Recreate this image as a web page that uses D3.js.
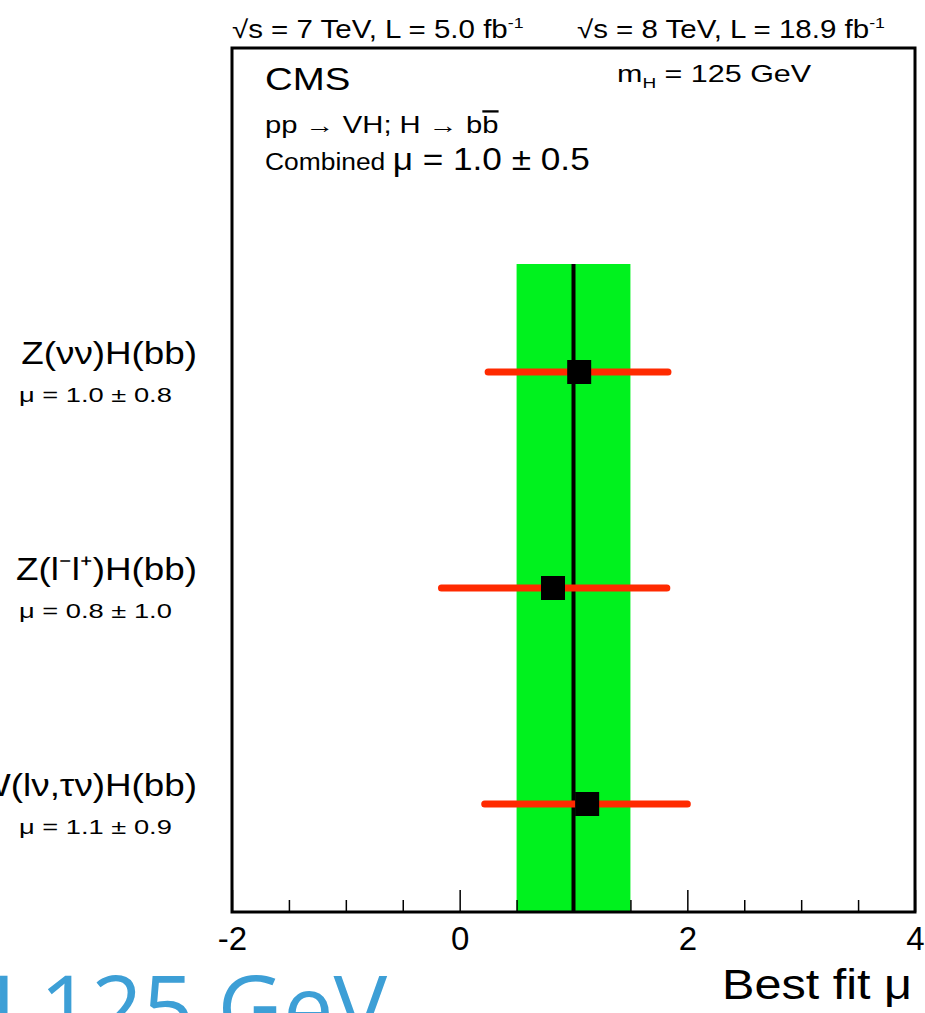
<!DOCTYPE html>
<html>
<head>
<meta charset="utf-8">
<script src="https://cdn.jsdelivr.net/npm/d3@7"></script>
<style>
  body { margin: 0; background: #fff; overflow: hidden; }
  svg { display: block; font-family: "Liberation Sans", Arial, Helvetica, sans-serif; }
</style>
</head>
<body>
<svg id="chart" width="925" height="1013"></svg>
<script>
// channels, top to bottom
var channels = ["Z(νν)H(bb)", "Z(l⁻l⁺)H(bb)", "W(lν,τν)H(bb)"];
var channelMu = ["μ = 1.0 ± 0.8", "μ = 0.8 ± 1.0", "μ =  1.1 ± 0.9"];
var muBest = [1.05, 0.82, 1.12];
var muLow = [0.25, -0.16, 0.22];
var muHigh = [1.83, 1.82, 2.0];

// combined fit
var combinedMu = 1.0;
var combinedBand = [0.5, 1.5];

var majorTicks = [-2, 0, 2, 4];
var minorTicks = [-1.5, -1, -0.5, 0.5, 1, 1.5, 2.5, 3, 3.5];

var svg = d3.select("#chart");

var frame = { left: 232, right: 915, top: 48, bottom: 912 };

var x = d3.scaleLinear()
    .domain([-2, 4])
    .range([frame.left, frame.right]);

var y = d3.scaleBand()
    .domain(channels)
    .range([264, frame.bottom]);

// text that is a bit wider than the font, like the original ROOT output
function wideText(px, py, sx, size) {
    return svg.append("text")
        .attr("transform", "translate(" + px + "," + py + ") scale(" + sx + ",1)")
        .attr("font-size", size);
}

// combined band + line
svg.append("rect")
    .attr("x", x(combinedBand[0]))
    .attr("y", y.range()[0])
    .attr("width", x(combinedBand[1]) - x(combinedBand[0]))
    .attr("height", frame.bottom - y.range()[0])
    .attr("fill", "#00f21e");

svg.append("line")
    .attr("x1", x(combinedMu)).attr("x2", x(combinedMu))
    .attr("y1", y.range()[0]).attr("y2", frame.bottom)
    .attr("stroke", "#000")
    .attr("stroke-width", 4);

// error bars
var rows = channels.map(function(c, i) {
    return { name: c, mu: muBest[i], lo: muLow[i], hi: muHigh[i], label: channelMu[i] };
});

svg.selectAll("line.err")
    .data(rows)
    .enter()
    .append("line")
    .classed("err", true)
    .attr("x1", function(d){ return x(d.lo); })
    .attr("x2", function(d){ return x(d.hi); })
    .attr("y1", function(d){ return y(d.name) + y.bandwidth() / 2; })
    .attr("y2", function(d){ return y(d.name) + y.bandwidth() / 2; })
    .attr("stroke", "#ff2a00")
    .attr("stroke-width", 7)
    .attr("stroke-linecap", "round");

var sq = 24;
svg.selectAll("rect.pt")
    .data(rows)
    .enter()
    .append("rect")
    .classed("pt", true)
    .attr("x", function(d){ return x(d.mu) - sq / 2; })
    .attr("y", function(d){ return y(d.name) + y.bandwidth() / 2 - sq / 2; })
    .attr("width", sq)
    .attr("height", sq)
    .attr("fill", "#000");

// channel labels (outside frame, left)
svg.selectAll("text.chan")
    .data(rows)
    .enter()
    .append("text")
    .classed("chan", true)
    .attr("transform", function(d){
        return "translate(197," + (y(d.name) + y.bandwidth() / 2 - 8) + ") scale(1.15,1)";
    })
    .attr("text-anchor", "end")
    .attr("font-size", 32)
    .text(function(d){ return d.name; });

svg.selectAll("text.chanmu")
    .data(rows)
    .enter()
    .append("text")
    .classed("chanmu", true)
    .attr("transform", function(d){
        return "translate(19," + (y(d.name) + y.bandwidth() / 2 + 30) + ") scale(1.3,1)";
    })
    .attr("font-size", 21)
    .text(function(d){ return d.label; });

// axis ticks, pointing inwards
var axisG = svg.append("g")
    .attr("transform", "translate(0," + frame.bottom + ")");

axisG.call(d3.axisBottom(x)
    .tickValues(majorTicks)
    .tickSize(-22)
    .tickPadding(15)
    .tickFormat(d3.format("d")));

axisG.selectAll(".tick line").attr("stroke", "#000").attr("stroke-width", 1.5);
axisG.selectAll(".tick text")
    .attr("font-size", 33)
    .attr("font-family", "Liberation Sans, Arial, sans-serif")
    .attr("fill", "#000")
    .text(function(d){ return d < 0 ? "-" + Math.abs(d) : d; });
axisG.select(".domain").remove();

var minorG = svg.append("g")
    .attr("transform", "translate(0," + frame.bottom + ")")
    .call(d3.axisBottom(x).tickValues(minorTicks).tickSize(-12).tickFormat(""));
minorG.select(".domain").remove();
minorG.selectAll(".tick line").attr("stroke", "#000").attr("stroke-width", 1.5);

// frame
svg.append("rect")
    .attr("x", frame.left)
    .attr("y", frame.top)
    .attr("width", frame.right - frame.left)
    .attr("height", frame.bottom - frame.top)
    .attr("fill", "none")
    .attr("stroke", "#000")
    .attr("stroke-width", 3);

// axis title
wideText(912, 999, 1.13, 43)
    .attr("text-anchor", "end")
    .text("Best fit μ");

// energy / lumi labels above frame
function lumiLabel(xPos, txt) {
    var t = wideText(xPos, 38, 1.18, 25);
    t.append("tspan").text(txt + " fb");
    t.append("tspan").attr("dy", -10).attr("font-size", 15).text("-1");
}
lumiLabel(232, "√s = 7 TeV, L = 5.0");
lumiLabel(577, "√s = 8 TeV, L = 18.9");

// text inside frame
wideText(265, 90, 1.2, 32).text("CMS");

var mh = wideText(617, 82, 1.27, 24);
mh.append("tspan").text("m");
mh.append("tspan").attr("dy", 6).attr("font-size", 15).text("H");
mh.append("tspan").attr("dy", -6).text(" = 125 GeV");

var proc = wideText(265, 133, 1.27, 23);
proc.append("tspan").text("pp → VH; H → b");
proc.append("tspan").attr("text-decoration", "overline").style("text-decoration", "overline").text("b");

var comb = wideText(265, 170, 1.1, 24);
comb.append("tspan").text("Combined ");
comb.append("tspan").attr("font-size", 32).text("μ = 1.0 ± 0.5");

// blue slide title remnant at bottom left
svg.append("text")
    .attr("x", -50)
    .attr("y", 1040)
    .attr("font-size", 90)
    .attr("font-family", "'Open Sans', Lato, sans-serif")
    .attr("fill", "#3d9fd6")
    .text("H 125 GeV");
</script>
</body>
</html>
